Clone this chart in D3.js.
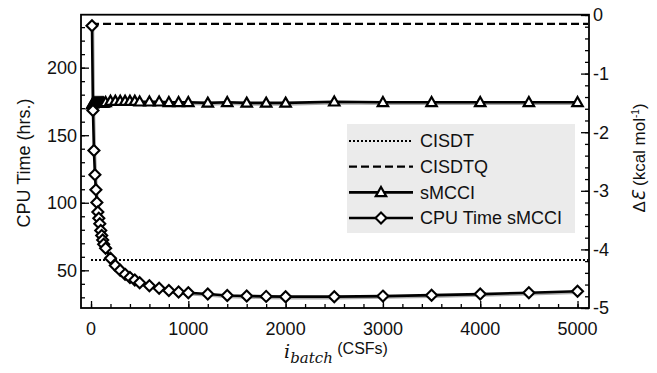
<!DOCTYPE html>
<html>
<head>
<meta charset="utf-8">
<script src="https://cdn.jsdelivr.net/npm/d3@7"></script>
<style>
  html, body { margin: 0; padding: 0; background: #fff; }
  text { font-family: "Liberation Sans", Arial, Helvetica, sans-serif; fill: #111; }
</style>
</head>
<body>
<svg id="chart" width="657" height="373"></svg>
<script>
// ---------------- data ----------------
const batchSizes = [10,20,30,40,50,60,70,80,90,100,110,120,130,150,200,250,300,350,400,450,500,600,700,800,900,1000,1200,1400,1600,1800,2000,2500,3000,3500,4000,4500,5000];
const cpuTimeHrs = [231,168.3,138.6,120.8,109.7,100.2,93.1,88.6,84.4,79.4,75.7,72.5,69.3,66.3,58.9,53.5,50.1,47.0,44.7,42.8,40.8,38.6,36.8,35.1,33.9,33.4,32.5,31.4,31.0,30.7,30.5,30.5,30.9,31.6,32.4,33.4,34.5];
const smcciDeltaE = [-1.53,-1.51,-1.50,-1.50,-1.50,-1.50,-1.50,-1.50,-1.50,-1.50,-1.50,-1.50,-1.50,-1.49,-1.47,-1.47,-1.47,-1.47,-1.47,-1.47,-1.48,-1.48,-1.48,-1.49,-1.49,-1.49,-1.50,-1.49,-1.50,-1.50,-1.50,-1.48,-1.49,-1.49,-1.49,-1.49,-1.49];
const refRangeX = [0, 5110];
const cisdtDeltaE = -4.18;
const cisdtqDeltaE = -0.15;
const xTicks = [0,1000,2000,3000,4000,5000];
const leftTicks = [50,100,150,200];
const rightTicks = [0,-1,-2,-3,-4,-5];
const legendLabels = ["CISDT","CISDTQ","sMCCI","CPU Time sMCCI"];

// ---------------- layout ----------------
const svg = d3.select("#chart");
const L = 81, R = 589, T = 14.7, B = 308;
const x = d3.scaleLinear().domain([-103, 5118]).range([L, R]);
const yL = d3.scaleLinear().domain([22.1, 239.2]).range([B, T]);
const yR = d3.scaleLinear().domain([-5, 0.005]).range([B, T]);
const FS = 18;

// reference lines
svg.append("line").attr("x1", x(refRangeX[0])).attr("x2", x(refRangeX[1]))
  .attr("y1", yR(cisdtDeltaE)).attr("y2", yR(cisdtDeltaE))
  .attr("stroke", "#000").attr("stroke-width", 2).attr("stroke-dasharray", "2,2");
svg.append("line").attr("x1", x(refRangeX[0])).attr("x2", x(refRangeX[1]))
  .attr("y1", yR(cisdtqDeltaE)).attr("y2", yR(cisdtqDeltaE))
  .attr("stroke", "#000").attr("stroke-width", 2.2).attr("stroke-dasharray", "8,4");

// series
const sm = batchSizes.map((b, i) => [b, smcciDeltaE[i]]);
const cpu = batchSizes.map((b, i) => [b, cpuTimeHrs[i]]);
const lineR = d3.line().x(d => x(d[0])).y(d => yR(d[1]));
const lineL = d3.line().x(d => x(d[0])).y(d => yL(d[1]));

// soft shadow
svg.append("path").attr("d", lineR(sm)).attr("fill", "none").attr("stroke", "#aaa").attr("stroke-width", 2.5).attr("transform", "translate(1,1.5)");
svg.append("path").attr("d", lineL(cpu)).attr("fill", "none").attr("stroke", "#aaa").attr("stroke-width", 2.5).attr("transform", "translate(1,1.5)");

svg.append("path").attr("d", lineR(sm)).attr("fill", "none").attr("stroke", "#000").attr("stroke-width", 2.6);
svg.append("path").attr("d", lineL(cpu)).attr("fill", "none").attr("stroke", "#000").attr("stroke-width", 2.6);

const triPath = "M0,-5.3 L5.2,3.8 L-5.2,3.8 Z";
const diaPath = "M0,-5.5 L5.5,0 L0,5.5 L-5.5,0 Z";

svg.append("g").selectAll("path").data(sm).join("path")
  .attr("d", triPath).attr("transform", d => `translate(${x(d[0])},${yR(d[1])})`)
  .attr("fill", "#fff").attr("stroke", "#000").attr("stroke-width", 2.2);
svg.append("g").selectAll("path").data(cpu).join("path")
  .attr("d", diaPath).attr("transform", d => `translate(${x(d[0])},${yL(d[1])})`)
  .attr("fill", "#fff").attr("stroke", "#000").attr("stroke-width", 2.1);

// frame
svg.append("rect").attr("x", L).attr("y", T).attr("width", R - L).attr("height", B - T)
  .attr("fill", "none").attr("stroke", "#000").attr("stroke-width", 1.8);

// axes (inward ticks)
const gB = svg.append("g").attr("transform", `translate(0,${B})`);
gB.call(d3.axisTop(x).tickValues(d3.range(0, 5001, 200)).tickSize(4).tickFormat(""));
gB.call(g => g.append("g").call(d3.axisTop(x).tickValues(xTicks).tickSize(7).tickFormat("")));
gB.selectAll(".domain").remove();
gB.selectAll("line").attr("stroke", "#000").attr("stroke-width", 1.3);
svg.append("g").selectAll("text").data(xTicks).join("text")
  .attr("x", d => x(d)).attr("y", B + 27).attr("text-anchor", "middle")
  .attr("font-size", FS).text(d => d);

const gLft = svg.append("g").attr("transform", `translate(${L},0)`);
gLft.call(d3.axisRight(yL).tickValues(d3.range(30, 231, 10)).tickSize(4).tickFormat(""));
gLft.call(g => g.append("g").call(d3.axisRight(yL).tickValues(leftTicks).tickSize(8).tickFormat("")));
gLft.selectAll(".domain").remove();
gLft.selectAll("line").attr("stroke", "#000").attr("stroke-width", 1.3);
svg.append("g").selectAll("text").data(leftTicks).join("text")
  .attr("x", L - 4).attr("y", d => yL(d)).attr("dy", "0.36em").attr("text-anchor", "end")
  .attr("font-size", FS).text(d => d);

const gRt = svg.append("g").attr("transform", `translate(${R},0)`);
gRt.call(d3.axisLeft(yR).tickValues(d3.range(-50, 1, 2).map(v => v / 10)).tickSize(4).tickFormat(""));
gRt.call(g => g.append("g").call(d3.axisLeft(yR).tickValues(rightTicks).tickSize(8).tickFormat("")));
gRt.selectAll(".domain").remove();
gRt.selectAll("line").attr("stroke", "#000").attr("stroke-width", 1.3);
svg.append("g").selectAll("text").data(rightTicks).join("text")
  .attr("x", R + 4).attr("y", d => yR(d)).attr("dy", "0.36em").attr("text-anchor", "start")
  .attr("font-size", FS).text(d => d);

// axis titles
svg.append("text").attr("transform", `translate(30,163) rotate(-90)`)
  .attr("text-anchor", "middle").attr("font-size", FS).text("CPU Time (hrs.)");

const rt = svg.append("text").attr("transform", `translate(645,158) rotate(-90)`)
  .attr("text-anchor", "middle").attr("font-size", 17);
rt.append("tspan").text("Δ");
rt.append("tspan").attr("font-family", "DejaVu Sans").attr("font-style", "italic").text("Ɛ");
rt.append("tspan").text(" (kcal mol");
rt.append("tspan").attr("dy", -6).attr("font-size", 10).text("-1");
rt.append("tspan").attr("dy", 6).text(")");

const bt = svg.append("text").attr("x", 336).attr("y", 358).attr("text-anchor", "middle").attr("font-size", FS);
bt.append("tspan").attr("font-family", "DejaVu Serif").attr("font-style", "italic").attr("font-size", 19).text("i");
bt.append("tspan").attr("font-family", "DejaVu Serif").attr("font-style", "italic").attr("font-size", 15).attr("dy", 5).text("batch");
bt.append("tspan").attr("dy", -9).attr("font-size", 16).text(" (CSFs)");

// legend
const lg = svg.append("g");
lg.append("rect").attr("x", 347).attr("y", 124).attr("width", 228).attr("height", 109).attr("fill", "#ebebeb");
const lgY = d3.scalePoint().domain(legendLabels).range([141, 218]);
const lx0 = 349, lx1 = 413, lxm = 381;
legendLabels.forEach((lab, i) => {
  const yy = lgY(lab);
  const ln = lg.append("line").attr("x1", lx0).attr("x2", lx1).attr("y1", yy).attr("y2", yy).attr("stroke", "#000");
  if (i === 0) ln.attr("stroke-width", 2).attr("stroke-dasharray", "2,2");
  else if (i === 1) ln.attr("stroke-width", 2.2).attr("stroke-dasharray", "8,4");
  else ln.attr("stroke-width", 2.6);
  if (i === 2) lg.append("path").attr("d", triPath).attr("transform", `translate(${lxm},${yy})`).attr("fill", "#fff").attr("stroke", "#000").attr("stroke-width", 2.2);
  if (i === 3) lg.append("path").attr("d", diaPath).attr("transform", `translate(${lxm},${yy})`).attr("fill", "#fff").attr("stroke", "#000").attr("stroke-width", 2.1);
  lg.append("text").attr("x", 420).attr("y", yy).attr("dy", "0.36em").attr("font-size", FS).text(lab);
});
</script>
</body>
</html>
